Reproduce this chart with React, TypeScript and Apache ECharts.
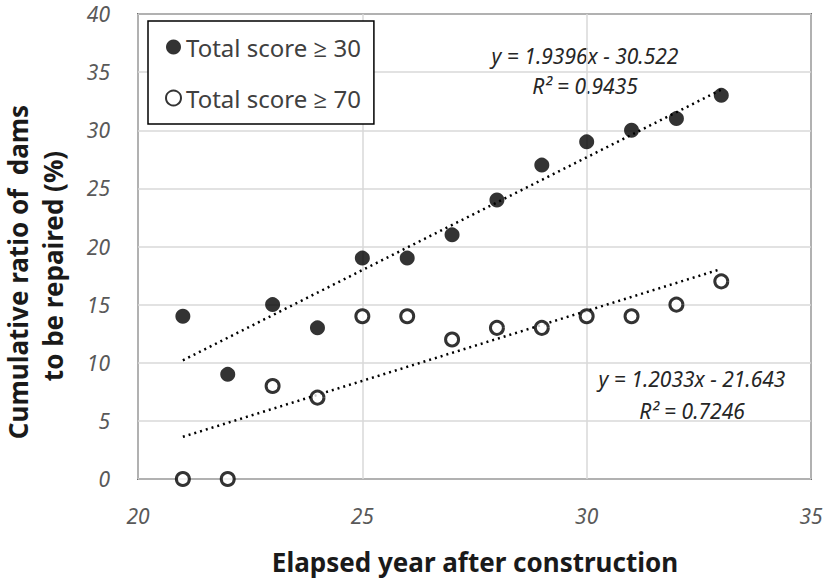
import React, { useEffect, useRef } from "react";
import * as echarts from "echarts";

const years = [21, 22, 23, 24, 25, 26, 27, 28, 29, 30, 31, 32, 33];
const score30 = [14, 9, 15, 13, 19, 19, 21, 24, 27, 29, 30, 31, 33];
const score70 = [0, 0, 8, 7, 14, 14, 12, 13, 13, 14, 14, 15, 17];
const trendX = [21, 33];
const trend30 = [10.21, 33.49];
const trend70 = [3.63, 18.07];
const seriesNames = ["Total score \u2265 30", "Total score \u2265 70"];
const eq30 = ["y = 1.9396x - 30.522", "R\u00b2 = 0.9435"];
const eq70 = ["y = 1.2033x - 21.643", "R\u00b2 = 0.7246"];
const xTitle = "Elapsed year after construction";
const yTitleLines = ["Cumulative ratio of  dams", "to be repaired (%)"];

const FONT = "'Noto Sans', 'Open Sans', sans-serif";

export default function App() {
  const ref = useRef<HTMLDivElement>(null);
  useEffect(() => {
    if (!ref.current) return;
    const chart = echarts.init(ref.current, null, { renderer: "svg" });
    const pts = (xs: number[], ys: number[]) => xs.map((x, i) => [x, ys[i]]);
    const tickLabel = {
      color: "#595959",
      fontStyle: "italic" as const,
      fontSize: 21,
      lineHeight: 18,
      fontFamily: FONT,
    };
    chart.setOption({
      animation: false,
      backgroundColor: "#fff",
      grid: {
        left: 138,
        top: 14,
        right: 16,
        bottom: 101,
        show: true,
        borderColor: "#000",
        borderWidth: 1.5,
      },
      xAxis: {
        type: "value",
        min: 20,
        max: 35,
        interval: 5,
        axisLine: { show: false },
        axisTick: { show: false },
        splitLine: { show: true, lineStyle: { color: "#d9d9d9", width: 1.5 } },
        axisLabel: { ...tickLabel, margin: 28 },
      },
      yAxis: {
        type: "value",
        min: 0,
        max: 40,
        interval: 5,
        axisLine: { show: false },
        axisTick: { show: false },
        splitLine: { show: true, lineStyle: { color: "#d9d9d9", width: 1.5 } },
        axisLabel: { ...tickLabel, margin: 28 },
      },
      legend: {
        data: seriesNames,
        orient: "vertical",
        left: 148,
        top: 21,
        padding: [13, 13, 13, 17],
        itemGap: 25,
        itemWidth: 15,
        itemHeight: 15,
        borderColor: "#000",
        borderWidth: 1.5,
        backgroundColor: "#fff",
        textStyle: {
          fontSize: 24,
          color: "#404040",
          fontFamily: FONT,
          lineHeight: 26,
        },
      },
      graphic: [
        {
          type: "text",
          x: 18,
          y: 272,
          rotation: Math.PI / 2,
          style: {
            text: yTitleLines[0],
            font: `bold 26px ${FONT}`,
            fill: "#1a1a1a",
            align: "center",
            verticalAlign: "middle",
            lineHeight: 28,
          },
        },
        {
          type: "text",
          x: 53,
          y: 266,
          rotation: Math.PI / 2,
          style: {
            text: yTitleLines[1],
            font: `bold 26px ${FONT}`,
            fill: "#1a1a1a",
            align: "center",
            verticalAlign: "middle",
            lineHeight: 28,
          },
        },
        {
          type: "text",
          x: 475,
          y: 562,
          style: {
            text: xTitle,
            font: `bold 26px ${FONT}`,
            fill: "#1a1a1a",
            align: "center",
            verticalAlign: "middle",
          },
        },
        {
          type: "text",
          x: 585,
          y: 71,
          style: {
            text: eq30.join("\n"),
            font: `italic 21px ${FONT}`,
            fill: "#262626",
            align: "center",
            verticalAlign: "middle",
            lineHeight: 30,
          },
        },
        {
          type: "text",
          x: 692,
          y: 395,
          style: {
            text: eq70.join("\n"),
            font: `italic 21px ${FONT}`,
            fill: "#262626",
            align: "center",
            verticalAlign: "middle",
            lineHeight: 32,
          },
        },
      ],
      series: [
        {
          name: "trend30",
          type: "line",
          data: pts(trendX, trend30),
          symbol: "none",
          lineStyle: { color: "#000", width: 2.5, type: [2, 4] },
          z: 1,
        },
        {
          name: "trend70",
          type: "line",
          data: pts(trendX, trend70),
          symbol: "none",
          lineStyle: { color: "#000", width: 2.5, type: [2, 4] },
          z: 1,
        },
        {
          name: seriesNames[0],
          type: "scatter",
          data: pts(years, score30),
          symbol: "circle",
          symbolSize: 15,
          itemStyle: { color: "#000" },
          z: 3,
        },
        {
          name: seriesNames[1],
          type: "scatter",
          data: pts(years, score70),
          symbol: "circle",
          symbolSize: 13,
          itemStyle: { color: "#fff", borderColor: "#000", borderWidth: 3 },
          z: 3,
        },
      ],
    });
    return () => chart.dispose();
  }, []);
  return (
    <div
      ref={ref}
      style={{ position: "fixed", left: 0, top: 0, width: 827, height: 580 }}
    />
  );
}
